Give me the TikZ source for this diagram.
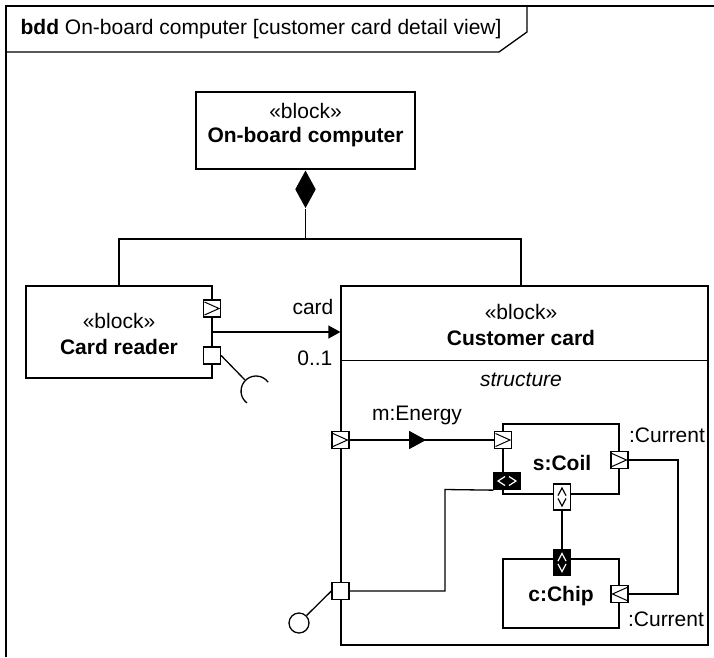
\documentclass[tikz,border=0pt]{standalone}
\usepackage{fontspec}
\setmainfont{Liberation Sans}
\usepackage{tikz}
\usetikzlibrary{arrows.meta,positioning,shapes.geometric,calc,decorations.markings}

\begin{document}
\begin{tikzpicture}[
      x=1pt, y=-1pt,
      line width=1.3pt,
      font=\fontsize{21}{25}\selectfont,
      blk/.style={draw,minimum width=#1,inner sep=0},
      port/.style={draw,fill=white,minimum size=17pt,inner sep=0},
      pout/.style={port,path picture={
          \draw[line width=1pt] ([xshift=1pt,yshift=-2pt]path picture bounding box.north west)
            -- ([xshift=-1.5pt]path picture bounding box.east)
            -- ([xshift=1pt,yshift=2pt]path picture bounding box.south west);}},
      pin/.style={port,path picture={
          \draw[line width=1pt] ([xshift=-1pt,yshift=-2pt]path picture bounding box.north east)
            -- ([xshift=1.5pt]path picture bounding box.west)
            -- ([xshift=-1pt,yshift=2pt]path picture bounding box.south east);}},
      bporth/.style={draw,fill=black,minimum width=26pt,minimum height=17pt,inner sep=0,
        path picture={
          \draw[white,line width=1.2pt] ([xshift=-2pt,yshift=-4pt]path picture bounding box.north)
            -- ([xshift=4pt]path picture bounding box.west)
            -- ([xshift=-2pt,yshift=4pt]path picture bounding box.south);
          \draw[white,line width=1.2pt] ([xshift=2pt,yshift=-4pt]path picture bounding box.north)
            -- ([xshift=-4pt]path picture bounding box.east)
            -- ([xshift=2pt,yshift=4pt]path picture bounding box.south);}},
      pportv/.style={draw,fill=#1,minimum width=17pt,minimum height=26pt,inner sep=0},
      vsym/.style={path picture={
          \draw[#1,line width=1.2pt] ([xshift=-4pt,yshift=1.5pt]path picture bounding box.center)
            -- ([yshift=-4pt]path picture bounding box.north)
            -- ([xshift=4pt,yshift=1.5pt]path picture bounding box.center);
          \draw[#1,line width=1.2pt] ([xshift=-4pt,yshift=-1.5pt]path picture bounding box.center)
            -- ([yshift=4pt]path picture bounding box.south)
            -- ([xshift=4pt,yshift=-1.5pt]path picture bounding box.center);}},
      arr/.style={-{Triangle[length=12pt,width=13pt]}},
      lbl/.style={inner sep=0},
      nm/.style={inner sep=0,font=\fontsize{21}{25}\selectfont\bfseries},
    ]
    \useasboundingbox (0,0) rectangle (714,657);

    % ── Frame ──────────────────────────────────────────────────────────────
    \draw (6,657) -- (6,6) -- (714,6);
    \draw (6,52) -- (499,52) -- (527,32) -- (527,6);
    \node[lbl,anchor=west] (title) at (20,29) {\textbf{bdd} On-board computer [customer card detail view]};

    % ── On-board computer ──────────────────────────────────────────────────
    \node[blk=219pt,minimum height=77pt] (obc) at (305.5,130.5) {};
    \node[lbl] at (305.5,111) {«block»};
    \node[nm]  at (305.5,137) {On-board computer};
    \node[diamond,fill=black,minimum width=21pt,minimum height=38pt,inner sep=0,anchor=north]
          (dia) at (obc.south) {};

    % ── Card reader ────────────────────────────────────────────────────────
    \node[blk=186pt,minimum height=92pt] (crd) at (119,332) {};
    \node[lbl] at (119,321) {«block»};
    \node[nm]  at (119,347) {Card reader};
    \node[pout] (crOut) at (212,308.5) {};
    \node[port] (crSq)  at (212,355.5) {};

    % ── Customer card ──────────────────────────────────────────────────────
    \node[blk=367pt,minimum height=359pt] (cc) at (524.5,465.5) {};
    \node[lbl] at (521,312) {«block»};
    \node[nm]  at (521,338) {Customer card};
    \draw ($(cc.north west)+(0,75)$) -- ($(cc.north east)+(0,75)$);
    \node[lbl,font=\fontsize{21}{25}\selectfont\itshape] at (521,380) {structure};

    % ── Composition ────────────────────────────────────────────────────────
    \coordinate (jn)  at (305.5,239);
    \coordinate (jnL) at (119,239);
    \coordinate (jnR) at (521,239);
    \draw (dia.south) -- (jn);
    \draw (crd.north) -- (jnL) -- (jnR) -- (jnR |- cc.north);

    % ── Association card ───────────────────────────────────────────────────
    \draw[arr] (crd.east) -- (crd.east -| cc.west);
    \node[lbl,anchor=east] at (334,307) {card};
    \node[lbl,anchor=east] at (333,358) {0..1};

    % ── Card reader socket ─────────────────────────────────────────────────
    \coordinate (sock)    at (256,391);
    \coordinate (sockend) at (245,380);
    \draw (crSq.east) -- (sockend);
    \draw ([shift={(-36:15)}]sock) arc[start angle=-36,end angle=-233,radius=15];

    % ── Structure parts ────────────────────────────────────────────────────
    \node[blk=116pt,minimum height=70pt] (coil) at (561,459) {};
    \node[nm] at (562,463) {s:Coil};
    \node[blk=116pt,minimum height=69pt] (chip) at (561,593.5) {};
    \node[nm] at (561,596) {c:Chip};

    % ports
    \node[pout] (ccIn)   at (340.5,440) {};
    \node[port] (ccSq)   at (340.5,591) {};
    \node[pout] (coilIn) at (503,440) {};
    \node[bporth] (coilBlk) at (507,481) {};
    \node[pportv=white,vsym=black] (coilBot) at (562,497) {};
    \node[pout] (coilOut) at (619.5,460) {};
    \node[pportv=black,vsym=white] (chipBlk) at (562,562.5) {};
    \node[pin]  (chipIn) at (619.5,594) {};

    % ── m:Energy ───────────────────────────────────────────────────────────
    \draw[postaction={decorate},decoration={markings,
          mark=at position 0.53 with {\arrow{Triangle[length=17pt,width=18pt]}}}]
          (ccIn.east) -- (coilIn.west);
    \node[lbl] at (417,415) {m:Energy};

    % ── Delegation to outer port ───────────────────────────────────────────
    \coordinate (bend) at (445,489.5);
    \draw (coilBlk.south west) -- (bend) |- (ccSq.east);
    \node[circle,draw,minimum size=20pt,inner sep=0] (lol) at (299,623) {};
    \draw (ccSq.west) -- (lol);

    % ── Coil to chip ───────────────────────────────────────────────────────
    \draw (coilBot.south) -- (chipBlk.north);
    \coordinate (rt) at (678,460);
    \draw (coilOut.east) -- (rt) |- (chipIn.east);
    \node[lbl] at (667,435) {:Current};
    \node[lbl] at (666,619) {:Current};

  \end{tikzpicture}
\end{document}
